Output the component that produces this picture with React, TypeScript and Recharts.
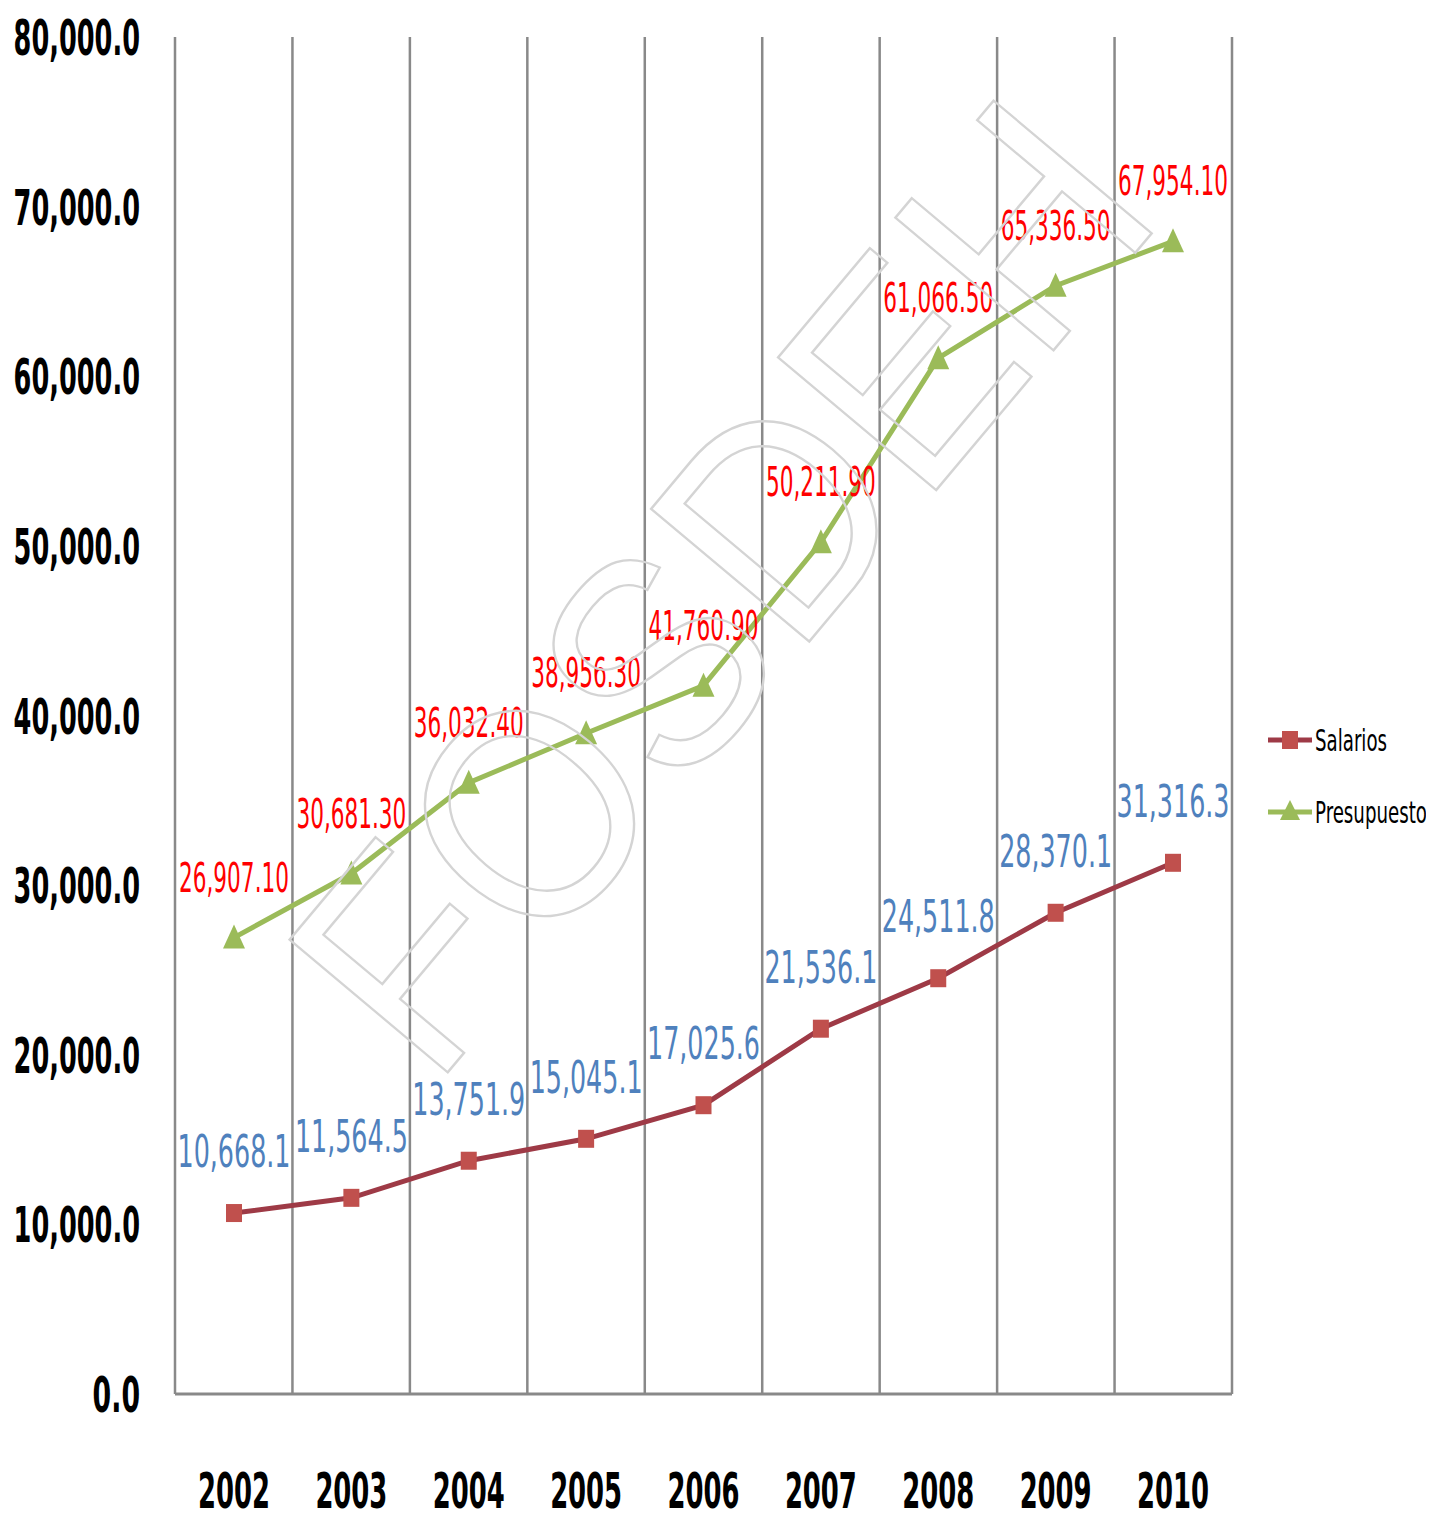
import React from "react";
import {
  LineChart,
  Line,
  XAxis,
  YAxis,
  CartesianGrid,
  LabelList,
} from "recharts";

const years = ["2002", "2003", "2004", "2005", "2006", "2007", "2008", "2009", "2010"];
const salarios = [10668.1, 11564.5, 13751.9, 15045.1, 17025.6, 21536.1, 24511.8, 28370.1, 31316.3];
const presupuesto = [26907.1, 30681.3, 36032.4, 38956.3, 41760.9, 50211.9, 61066.5, 65336.5, 67954.1];
const yTicks = [0, 10000, 20000, 30000, 40000, 50000, 60000, 70000, 80000];
const seriesNames = ["Salarios", "Presupuesto"];

const data = years.map((year, i) => ({
  year,
  salarios: salarios[i],
  presupuesto: presupuesto[i],
}));

const NARROW = "'Liberation Sans Narrow', 'Arial Narrow', 'DejaVu Sans Condensed', sans-serif";

const fmt = (v: number, d: number) =>
  v.toLocaleString("en-US", { minimumFractionDigits: d, maximumFractionDigits: d });

const YTick = (props: any) => {
  const { y, payload } = props;
  const label = fmt(payload.value, 1);
  return (
    <text
      x={132}
      y={y + 18}
      textAnchor="end"
      fontFamily={NARROW}
      fontWeight="bold"
      fontSize={50}
      fill="#000"
      textLength={label.length * 15.8}
      lengthAdjust="spacingAndGlyphs"
    >
      {label}
    </text>
  );
};

const XTick = (props: any) => {
  const { x, y, payload } = props;
  return (
    <text
      x={x}
      y={y + 106}
      textAnchor="middle"
      fontFamily={NARROW}
      fontWeight="bold"
      fontSize={50}
      fill="#000"
      textLength={72}
      lengthAdjust="spacingAndGlyphs"
    >
      {payload.value}
    </text>
  );
};

const SquareDot = (props: any) => {
  const { cx, cy } = props;
  return <rect x={cx - 8} y={cy - 9} width={16} height={18} fill="#C0504D" />;
};

const TriangleDot = (props: any) => {
  const { cx, cy } = props;
  return (
    <polygon
      points={`${cx},${cy - 13} ${cx + 11},${cy + 11} ${cx - 11},${cy + 11}`}
      fill="#9BBB59"
    />
  );
};

const redLabel = (props: any) => {
  const { x, y, value } = props;
  return (
    <text
      x={x}
      y={y - 46}
      textAnchor="middle"
      fontFamily={NARROW}
      fontSize={40}
      fill="#FF0000"
      textLength={110}
      lengthAdjust="spacingAndGlyphs"
    >
      {fmt(value, 2)}
    </text>
  );
};

const blueLabel = (props: any) => {
  const { x, y, value } = props;
  return (
    <text
      x={x}
      y={y - 46}
      textAnchor="middle"
      fontFamily={NARROW}
      fontSize={44}
      fill="#4F81BD"
      textLength={113}
      lengthAdjust="spacingAndGlyphs"
    >
      {fmt(value, 1)}
    </text>
  );
};

export default function App() {
  return (
    <div style={{ position: "relative", width: 1418, height: 1510 }}>
      <LineChart
        width={1418}
        height={1510}
        data={data}
        margin={{ top: 29, right: 194, bottom: 0, left: 0 }}
      >
        <CartesianGrid
          horizontal={false}
          stroke="#898989"
          strokeWidth={2.5}
          verticalCoordinatesGenerator={({ offset }: any) =>
            Array.from({ length: years.length + 1 }, (_, i) => offset.left + (i * offset.width) / years.length)
          }
        />
        <XAxis
          dataKey="year"
          height={124}
          padding={{ left: 59, right: 59 }}
          tickLine={false}
          axisLine={{ stroke: "#898989", strokeWidth: 3 }}
          tick={<XTick />}
          interval={0}
        />
        <YAxis
          width={167}
          domain={[0, 80000]}
          ticks={yTicks}
          axisLine={false}
          tickLine={false}
          tick={<YTick />}
          interval={0}
        />
        <Line
          dataKey="salarios"
          name={seriesNames[0]}
          stroke="#9E3A46"
          strokeWidth={5}
          dot={<SquareDot />}
          activeDot={false}
          isAnimationActive={false}
        >
          <LabelList dataKey="salarios" content={blueLabel} />
        </Line>
        <Line
          dataKey="presupuesto"
          name={seriesNames[1]}
          stroke="#9BBB59"
          strokeWidth={5}
          dot={<TriangleDot />}
          activeDot={false}
          isAnimationActive={false}
        >
          <LabelList dataKey="presupuesto" content={redLabel} />
        </Line>
      </LineChart>
      <svg
        width={1426}
        height={1510}
        style={{ position: "absolute", left: 0, top: 0, pointerEvents: "none" }}
      >
        {/* watermark */}
        <text
          x={0}
          y={0}
          transform="translate(712,578) rotate(-50)"
          textAnchor="middle"
          dominantBaseline="central"
          fontFamily="'Liberation Sans', Arial, sans-serif"
          fontSize={300}
          fill="none"
          stroke="#d4d4d4"
          strokeWidth={2.5}
          textLength={1140}
          lengthAdjust="spacingAndGlyphs"
        >
          FOSDEH
        </text>
        {/* legend */}
        <g transform="translate(1260,712)">
          <line x1={0} y1={20} x2={44} y2={20} stroke="#9E3A46" strokeWidth={5} />
          <rect x={14} y={11} width={16} height={18} fill="#C0504D" />
          <text x={47} y={31} fontFamily={NARROW} fontSize={30} fill="#000" textLength={72} lengthAdjust="spacingAndGlyphs">
            {seriesNames[0]}
          </text>
          <line x1={0} y1={92} x2={44} y2={92} stroke="#9BBB59" strokeWidth={5} />
          <polygon points="22,80 32,100 12,100" fill="#9BBB59" />
          <text x={47} y={103} fontFamily={NARROW} fontSize={30} fill="#000" textLength={112} lengthAdjust="spacingAndGlyphs">
            {seriesNames[1]}
          </text>
        </g>
      </svg>
    </div>
  );
}
